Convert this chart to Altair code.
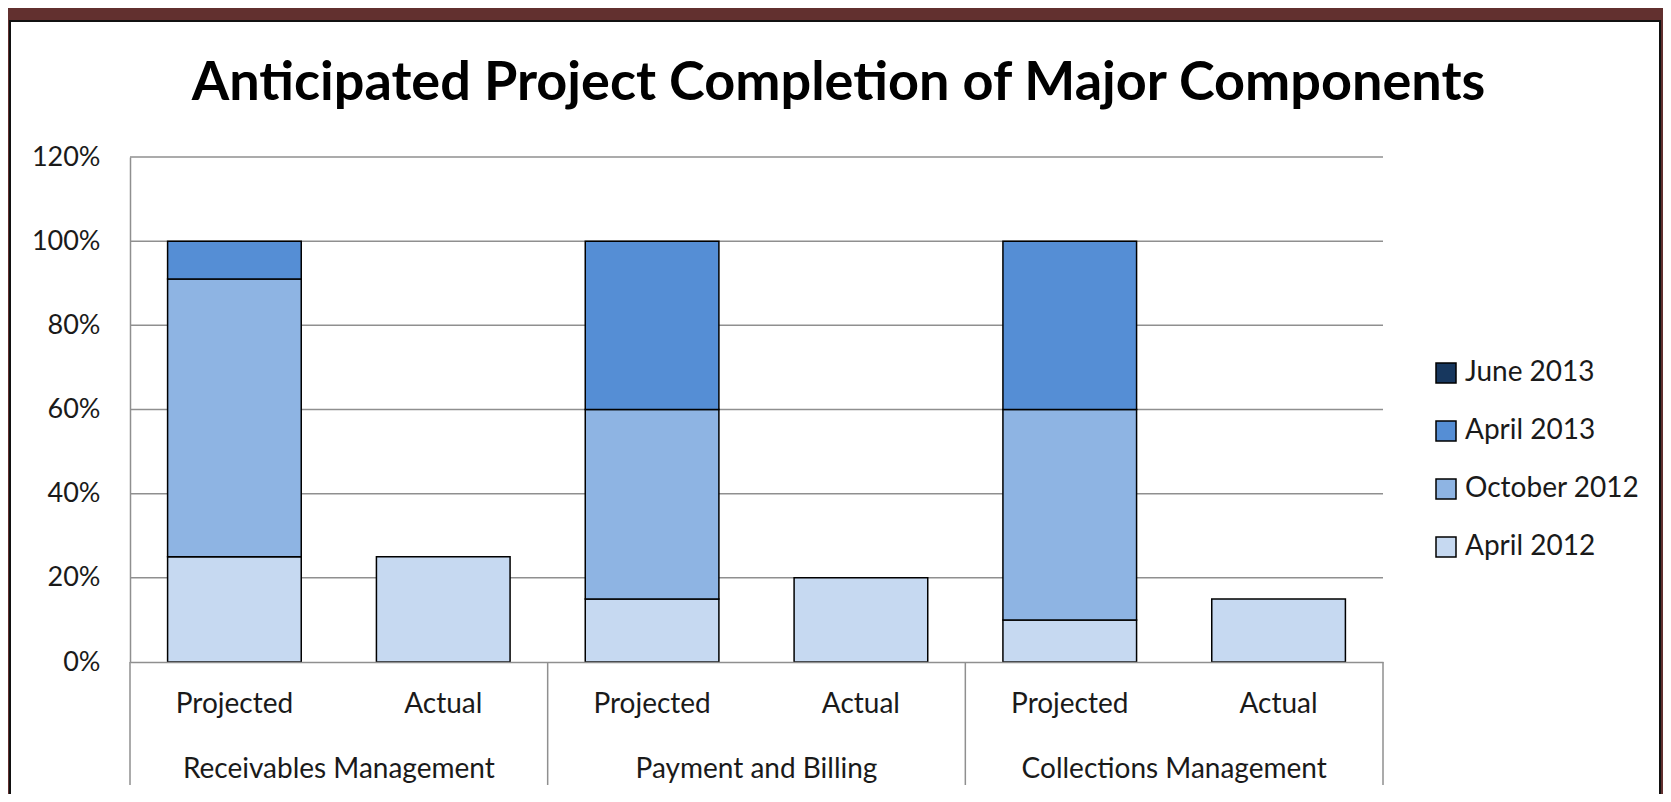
import altair as alt
import pandas as pd

# ---- data ----
groups = ["Receivables Management", "Payment and Billing", "Collections Management"]
bar_types = ["Projected", "Actual"]
periods = ["April 2012", "October 2012", "April 2013", "June 2013"]
legend_order = ["June 2013", "April 2013", "October 2012", "April 2012"]
legend_colors = ["#17375E", "#558ED5", "#8EB4E3", "#C6D9F1"]

projected_apr2012 = [25, 15, 10]
projected_oct2012 = [66, 45, 50]
projected_apr2013 = [9, 40, 40]
projected_jun2013 = [0, 0, 0]
actual_apr2012 = [25, 20, 15]

y_ticks = [0, 0.2, 0.4, 0.6, 0.8, 1.0, 1.2]

title_text = "Anticipated Project Completion of Major Components"

# ---- build table ----
rows = []
proj = {
    "April 2012": projected_apr2012,
    "October 2012": projected_oct2012,
    "April 2013": projected_apr2013,
    "June 2013": projected_jun2013,
}
for gi, g in enumerate(groups):
    for p in periods:
        v = proj[p][gi]
        if v > 0:
            rows.append({"group": g, "kind": "Projected", "key": g + "|Projected",
                         "period": p, "order": periods.index(p), "value": v / 100})
    rows.append({"group": g, "kind": "Actual", "key": g + "|Actual",
                 "period": "April 2012", "order": 0, "value": actual_apr2012[gi] / 100})
df = pd.DataFrame(rows)
keys = [g + "|" + k for g in groups for k in bar_types]

W, H = 1253, 505
STEP = W / len(keys)
FONT = "Lato"
TXT = "#1a1a1a"
GRID = "#8f8f8f"

xscale = alt.Scale(domain=keys, paddingInner=0.36, paddingOuter=0.18)
yscale = alt.Scale(domain=[0, 1.2], nice=False)

# white card with black inner edge (frame)
card = alt.Chart(alt.Data(values=[{"c": 1}])).mark_rect(
    fill="white", stroke="#111111", strokeWidth=2
).encode(
    x=alt.value(-120), x2=alt.value(W + 277),
    y=alt.value(-136), y2=alt.value(H + 145),
)

grid_df = pd.DataFrame({"v": y_ticks[1:]})
grid = alt.Chart(grid_df).mark_rule(color=GRID, strokeWidth=1.5).encode(
    y=alt.Y("v:Q", scale=yscale),
    x=alt.value(0), x2=alt.value(W),
)

bars = alt.Chart(df).mark_bar(stroke="black", strokeWidth=1.5).encode(
    x=alt.X("key:N", scale=xscale, sort=keys,
            axis=alt.Axis(title=None, labelExpr="split(datum.value, '|')[1]",
                          ticks=False, domain=True, domainColor=GRID, domainWidth=1.5,
                          labelFont=FONT, labelFontSize=28, labelColor=TXT,
                          labelPadding=28, labelAngle=0, zindex=1)),
    y=alt.Y("value:Q", scale=yscale, stack="zero",
            axis=alt.Axis(title=None, values=y_ticks, format=".0%", grid=False,
                          ticks=False, domain=True, domainColor=GRID, domainWidth=1.5,
                          labelFont=FONT, labelFontSize=27, labelColor=TXT,
                          labelPadding=30, zindex=1)),
    color=alt.Color("period:N",
                    scale=alt.Scale(domain=legend_order, range=legend_colors),
                    legend=alt.Legend(title=None, orient="none", legendX=1302, legendY=202,
                                      symbolType="square", symbolSize=400,
                                      symbolStrokeColor="black", symbolStrokeWidth=1.5,
                                      labelFont=FONT, labelFontSize=28, labelColor=TXT,
                                      labelLimit=400,
                                      labelOffset=5, rowPadding=30, padding=0, zindex=1)),
    order=alt.Order("order:Q", sort="ascending"),
)

sep_left_df = pd.DataFrame({"key": [g + "|Projected" for g in groups]})
sep_left = alt.Chart(sep_left_df).mark_rule(color=GRID, strokeWidth=1.5, xOffset=-STEP / 2).encode(
    x=alt.X("key:N", scale=xscale, sort=keys),
    y=alt.value(H), y2=alt.value(H + 123),
)
sep_right_df = pd.DataFrame({"key": [groups[-1] + "|Actual"]})
sep_right = alt.Chart(sep_right_df).mark_rule(color=GRID, strokeWidth=1.5, xOffset=STEP / 2).encode(
    x=alt.X("key:N", scale=xscale, sort=keys),
    y=alt.value(H), y2=alt.value(H + 123),
)

glabel_df = pd.DataFrame({"key": [g + "|Projected" for g in groups], "label": groups})
glabels = alt.Chart(glabel_df).mark_text(
    font=FONT, fontSize=28, color=TXT, baseline="middle", align="center", xOffset=STEP / 2
).encode(
    x=alt.X("key:N", scale=xscale, sort=keys),
    y=alt.value(H + 108),
    text="label:N",
)

chart = alt.layer(card, grid, bars, sep_left, sep_right, glabels).properties(
    width=W, height=H,
    title=alt.TitleParams(title_text, font=FONT, fontSize=54, fontWeight="bold",
                          color="black", anchor="middle", dx=82, dy=189, offset=55,
                          baseline="alphabetic", zindex=1),
    autosize=alt.AutoSizeParams(type="none"),
    padding={"left": 122, "top": 149, "right": 280, "bottom": 132},
).configure(background="#62302f").configure_view(stroke="transparent")

chart.save("out.html", embed_options={"renderer": "svg", "actions": False})
